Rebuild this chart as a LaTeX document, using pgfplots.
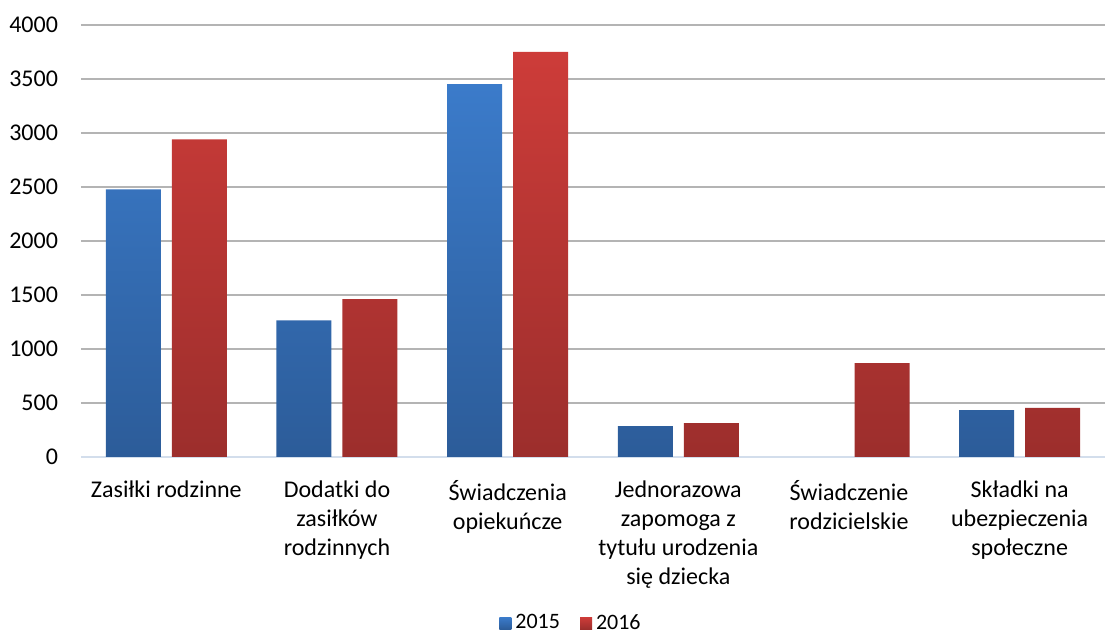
\documentclass[border=0pt]{standalone}
\usepackage{pgfplots}
\pgfplotsset{compat=1.18}
\usepackage{fontspec}
\setmainfont{Carlito}
\definecolor{bluetop}{HTML}{3B7BCA}
\definecolor{bluebot}{HTML}{2C5C99}
\definecolor{redtop}{HTML}{CD3C39}
\definecolor{redbot}{HTML}{9C2E2C}
\definecolor{gridc}{HTML}{B4B4B4}
\definecolor{zeroc}{HTML}{D3DEEC}
\begin{document}
\begin{tikzpicture}
\begin{axis}[
  scale only axis,
  width=512pt, height=216pt,
  ybar=5.5pt, bar width=27.5pt,
  xmin=-0.5, xmax=5.5,
  ymin=0, ymax=4000,
  ytick={500,1000,...,4000},
  extra y ticks={0},
  extra y tick style={major grid style={color=zeroc, line width=0.9pt}},
  ymajorgrids,
  major grid style={color=gridc, line width=0.9pt},
  axis line style={draw=none},
  tick style={draw=none},
  xtick={0,...,5},
  xticklabels={Zasiłki rodzinne, {Dodatki do\\zasiłków\\rodzinnych}, {Świadczenia\\opiekuńcze}, {Jednorazowa\\zapomoga z\\tytułu urodzenia\\się dziecka}, {Świadczenie\\rodzicielskie}, {Składki na\\ubezpieczenia\\społeczne}},
  xticklabel style={align=center, font=\fontsize{12pt}{14.5pt}\selectfont, yshift=-4pt},
  yticklabel style={font=\fontsize{12pt}{14pt}\selectfont, xshift=-8pt},
  /pgf/number format/assume math mode=true,
  scaled y ticks=false,
  yticklabel={\pgfmathprintnumber[fixed,1000 sep={}]{\tick}},
  legend style={at={(0.4795,-0.385)}, anchor=center, draw=none, legend columns=2,
    font=\fontsize{11pt}{13pt}\selectfont,
    /tikz/every even column/.append style={column sep=8pt}},
  legend image code/.code={\path[#1] (0pt,-3pt) rectangle (6pt,3pt);},
  clip=false,
]
\addplot[draw=none, top color=bluetop, bottom color=bluebot] coordinates {(0,2478) (1,1266) (2,3452) (3,286) (5,435)};
\addplot[draw=none, top color=redtop, bottom color=redbot] coordinates {(0,2942) (1,1462) (2,3750) (3,313) (4,870) (5,454)};
\legend{2015,2016}
\end{axis}
\pgfresetboundingbox
\path (current axis.south west) ++(-40.5pt,-89.5pt) coordinate (bl);
\path (current axis.north east) ++(0pt,12.5pt) coordinate (tr);
\path (bl) rectangle (tr);
\end{tikzpicture}
\end{document}
